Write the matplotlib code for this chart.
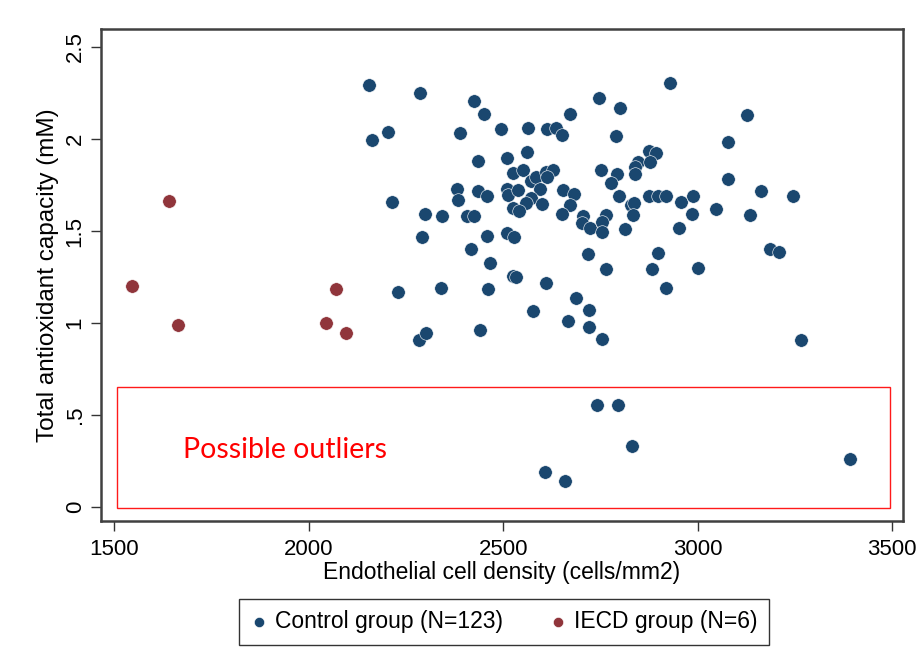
import matplotlib.pyplot as plt
from matplotlib.patches import Rectangle

# Endothelial cell density vs total antioxidant capacity
ecd_control = [2156, 2204, 2163, 2215, 2230, 2287, 2284, 2301, 2291, 2298,
               2425, 2451, 2389, 2495, 2564, 2613, 2636, 2652, 2672, 2436,
               2510, 2562, 2526, 2551, 2571, 2585, 2611, 2629, 2614, 2595,
               2653, 2681, 2382, 2383, 2435, 2458, 2511, 2513, 2539, 2571,
               2560, 2600, 2526, 2541, 2672, 2343, 2407, 2425, 2652, 2929,
               2747, 2801, 2790, 2875, 2893, 2848, 2878, 2838, 2839, 2752,
               2792, 2777, 2797, 2875, 2898, 2919, 2958, 2987, 2985, 3046,
               2829, 2837, 2835, 2764, 2706, 3128, 3078, 3079, 3164, 3246,
               3135, 2814, 2952, 3186, 3210, 2899, 2883, 3001, 2918, 3267,
               2702, 2724, 2754, 2754, 2719, 2765, 2688, 2721, 2667, 2721,
               2754, 2458, 2510, 2529, 2417, 2467, 2340, 2461, 2525, 2533,
               2611, 2576, 2441, 2742, 2796, 2832, 2608, 2659, 3392]
tac_control = [2.293, 2.038, 1.995, 1.658, 1.168, 2.250, 0.908, 0.946, 1.465, 1.590,
               2.207, 2.136, 2.033, 2.054, 2.060, 2.054, 2.060, 2.022, 2.136, 1.880,
               1.897, 1.929, 1.815, 1.832, 1.774, 1.793, 1.821, 1.832, 1.793, 1.728,
               1.723, 1.701, 1.728, 1.671, 1.717, 1.689, 1.726, 1.696, 1.723, 1.678,
               1.652, 1.647, 1.625, 1.609, 1.641, 1.582, 1.579, 1.579, 1.590, 2.304,
               2.224, 2.170, 2.014, 1.936, 1.924, 1.875, 1.877, 1.849, 1.809, 1.832,
               1.810, 1.763, 1.692, 1.690, 1.690, 1.690, 1.660, 1.692, 1.592, 1.618,
               1.639, 1.652, 1.585, 1.589, 1.580, 2.129, 1.985, 1.785, 1.717, 1.690,
               1.589, 1.509, 1.518, 1.402, 1.388, 1.378, 1.295, 1.298, 1.192, 0.906,
               1.542, 1.516, 1.548, 1.496, 1.375, 1.293, 1.138, 1.072, 1.011, 0.977,
               0.911, 1.473, 1.491, 1.466, 1.402, 1.324, 1.189, 1.183, 1.254, 1.252,
               1.217, 1.064, 0.960, 0.554, 0.554, 0.332, 0.190, 0.141, 0.261]

ecd_iecd = [1547, 1640, 1663, 2044, 2071, 2096]
tac_iecd = [1.203, 1.665, 0.989, 1.002, 1.185, 0.944]

xticks = [1500, 2000, 2500, 3000, 3500]
yticks = [0, 0.5, 1, 1.5, 2, 2.5]
ytick_labels = ["0", ".5", "1", "1.5", "2", "2.5"]

navy = "#1a476f"
maroon = "#90353b"

plt.rcParams['font.family'] = ['Liberation Sans', 'DejaVu Sans']

fig = plt.figure(figsize=(9.23, 6.70), dpi=100)
ax = fig.add_axes([0.1094, 0.2224, 0.8689, 0.7343])

ax.scatter(ecd_control, tac_control, s=95, color=navy, edgecolors="white",
           linewidths=0.4, label="Control group (N=123)", zorder=3)
ax.scatter(ecd_iecd, tac_iecd, s=95, color=maroon, edgecolors="white",
           linewidths=0.4, label="IECD group (N=6)", zorder=3)

# box around the possible outliers
ax.add_patch(Rectangle((1508, -0.005), 1987, 0.657, fill=False,
                       edgecolor="#ff1a1a", linewidth=1.0, zorder=2))
ax.text(1677, 0.31, "Possible outliers", color="#ff0000", fontsize=20.5,
        family=["Lato", "DejaVu Sans"], va="center", ha="left")

ax.set_xlim(1466, 3528)
ax.set_ylim(-0.076, 2.598)
ax.set_xticks(xticks)
ax.set_yticks(yticks)
ax.set_yticklabels(ytick_labels, rotation=90, va="center")
ax.tick_params(axis="both", direction="out", length=7, width=1,
               labelsize=16, color="#333333")
ax.tick_params(axis="x", pad=6)
ax.tick_params(axis="y", pad=4)
for sp in ax.spines.values():
    sp.set_color("#404040")
    sp.set_linewidth(1.8)

ax.set_xlabel("Endothelial cell density (cells/mm2)", fontsize=16.5, labelpad=1)
ax.set_ylabel("Total antioxidant capacity (mM)", fontsize=17.5, labelpad=4)

fig.legend(loc="center", bbox_to_anchor=(0.546, 0.072), ncol=2,
           fontsize=16.5, frameon=True, fancybox=False, edgecolor="black",
           handletextpad=0.3, columnspacing=2.0, borderpad=0.5,
           markerscale=0.75, handlelength=0.8)

fig.savefig("out.png", dpi=100, facecolor="white")
plt.close()
